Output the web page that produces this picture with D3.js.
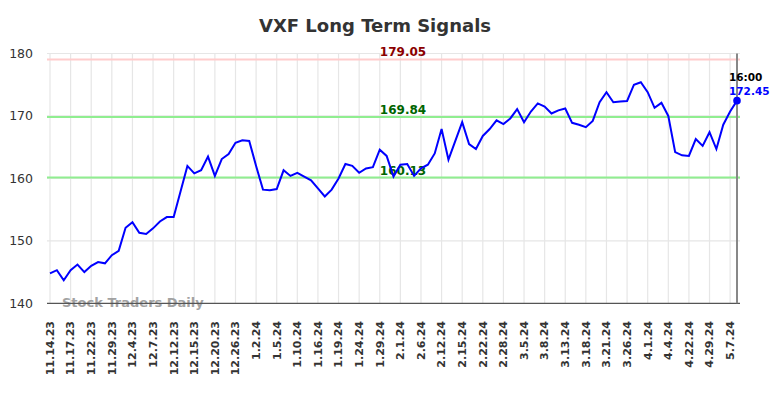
<!DOCTYPE html>
<html>
<head>
<meta charset="utf-8">
<script src="https://cdn.jsdelivr.net/npm/d3@7"></script>
<style>
  body { margin: 0; background: #fff; }
  svg { display: block; font-family: "DejaVu Sans", sans-serif; }
</style>
</head>
<body>
<svg id="chart" width="784" height="398"></svg>
<script>
// closing prices, one per trading session shown
const prices = [
  144.8, 145.3, 143.7, 145.3, 146.2, 145.0, 146.0, 146.6, 146.4, 147.7,
  148.4, 152.1, 153.0, 151.3, 151.1, 152.0, 153.1, 153.8, 153.8, 157.9,
  162.0, 160.8, 161.3, 163.5, 160.4, 163.1, 163.9, 165.7, 166.1, 166.0,
  162.0, 158.2, 158.1, 158.3, 161.3, 160.4, 160.9, 160.3, 159.7, 158.4,
  157.1, 158.2, 160.0, 162.3, 162.0, 160.9, 161.6, 161.8, 164.6, 163.6,
  160.3, 162.2, 162.3, 160.4, 161.6, 162.2, 164.0, 167.9, 163.0, 166.0,
  169.0, 165.5, 164.7, 166.8, 167.9, 169.3, 168.7, 169.6, 171.1, 169.0,
  170.7, 172.0, 171.5, 170.4, 170.9, 171.2, 168.9, 168.6, 168.2, 169.2,
  172.2, 173.8, 172.2, 172.3, 172.4, 175.0, 175.4, 173.8, 171.3, 172.1,
  170.0, 164.2, 163.7, 163.6, 166.3, 165.2, 167.4, 164.7, 168.6, 170.7,
  172.45
];

// a date label every third session
const tickLabels = [
  "11.14.23", "11.17.23", "11.22.23", "11.29.23", "12.4.23", "12.7.23",
  "12.12.23", "12.15.23", "12.20.23", "12.26.23", "1.2.24", "1.5.24",
  "1.10.24", "1.16.24", "1.19.24", "1.24.24", "1.29.24", "2.1.24",
  "2.6.24", "2.12.24", "2.15.24", "2.22.24", "2.28.24", "3.5.24",
  "3.8.24", "3.13.24", "3.18.24", "3.21.24", "3.26.24", "4.1.24",
  "4.4.24", "4.22.24", "4.29.24", "5.7.24"
];
const tickEvery = 3;

const yTicks = [140, 150, 160, 170, 180];

const levels = [
  { value: 179.05, line: "#ffcccc", text: "#8b0000" },
  { value: 169.84, line: "#90ee90", text: "#006400" },
  { value: 160.13, line: "#90ee90", text: "#006400" }
];

const lastTime = "16:00";

const svg = d3.select("#chart");
const plotL = 47, plotR = 740, plotT = 53.5, plotB = 303.3;

const x = d3.scaleLinear().domain([0, prices.length - 1]).range([50, 737]);
const y = d3.scaleLinear().domain([140, 180]).range([plotB, plotT]);

// title
svg.append("text")
  .attr("x", 375).attr("y", 32)
  .attr("text-anchor", "middle")
  .attr("font-size", 18).attr("font-weight", "bold")
  .attr("fill", "#333")
  .text("VXF Long Term Signals");

// horizontal grid + y labels
svg.append("g").selectAll("line").data(yTicks.filter(d => d > 140)).join("line")
  .attr("x1", plotL).attr("x2", plotR)
  .attr("y1", d => y(d)).attr("y2", d => y(d))
  .attr("stroke", "#e6e6e6").attr("stroke-width", 1.2);

svg.append("g").selectAll("text").data(yTicks).join("text")
  .attr("x", 33).attr("y", d => y(d))
  .attr("dy", "0.35em")
  .attr("text-anchor", "end")
  .attr("font-size", 12.5)
  .attr("fill", "#333")
  .text(d => d);

// vertical grid + x labels
const tickIdx = tickLabels.map((_, i) => i * tickEvery);
svg.append("g").selectAll("line").data(tickIdx).join("line")
  .attr("x1", d => x(d)).attr("x2", d => x(d))
  .attr("y1", plotT).attr("y2", plotB)
  .attr("stroke", "#e6e6e6").attr("stroke-width", 1.2);

svg.append("g").selectAll("text").data(tickLabels).join("text")
  .attr("transform", (d, i) => `translate(${x(i * tickEvery)},321) rotate(-90)`)
  .attr("dy", "0.35em")
  .attr("text-anchor", "end")
  .attr("font-size", 11).attr("font-weight", "bold")
  .attr("fill", "#333")
  .text(d => d);

// watermark
svg.append("text")
  .attr("x", 62).attr("y", 307)
  .attr("font-size", 13).attr("font-weight", "bold")
  .attr("fill", "#999").attr("opacity", 0.9)
  .text("Stock Traders Daily");

// signal levels
svg.append("g").selectAll("line").data(levels).join("line")
  .attr("x1", plotL).attr("x2", plotR)
  .attr("y1", d => y(d.value)).attr("y2", d => y(d.value))
  .attr("stroke", d => d.line).attr("stroke-width", 2);

svg.append("g").selectAll("text").data(levels).join("text")
  .attr("x", 403).attr("y", d => y(d.value) - 3)
  .attr("text-anchor", "middle")
  .attr("font-size", 12).attr("font-weight", "bold")
  .attr("fill", d => d.text)
  .text(d => d.value.toFixed(2));

// axes lines
svg.append("line")
  .attr("x1", plotL).attr("x2", plotR)
  .attr("y1", plotB).attr("y2", plotB)
  .attr("stroke", "#555").attr("stroke-width", 1.3);

const last = prices.length - 1;
svg.append("line")
  .attr("x1", x(last)).attr("x2", x(last))
  .attr("y1", plotT).attr("y2", plotB)
  .attr("stroke", "#888").attr("stroke-width", 2);

// price line
const line = d3.line()
  .x((d, i) => x(i))
  .y(d => y(d));

svg.append("path")
  .datum(prices)
  .attr("d", line)
  .attr("fill", "none")
  .attr("stroke", "#0000ff")
  .attr("stroke-width", 2);

// last point
svg.append("circle")
  .attr("cx", x(last)).attr("cy", y(prices[last]))
  .attr("r", 3.8).attr("fill", "#0000ff");

svg.append("text")
  .attr("x", x(last) - 8).attr("y", y(prices[last]) - 20)
  .attr("font-size", 10.5).attr("font-weight", "bold")
  .attr("fill", "#000")
  .text(lastTime);

svg.append("text")
  .attr("x", x(last) - 8).attr("y", y(prices[last]) - 6)
  .attr("font-size", 10.5).attr("font-weight", "bold")
  .attr("fill", "#0000ff")
  .text(prices[last].toFixed(2));
</script>
</body>
</html>
